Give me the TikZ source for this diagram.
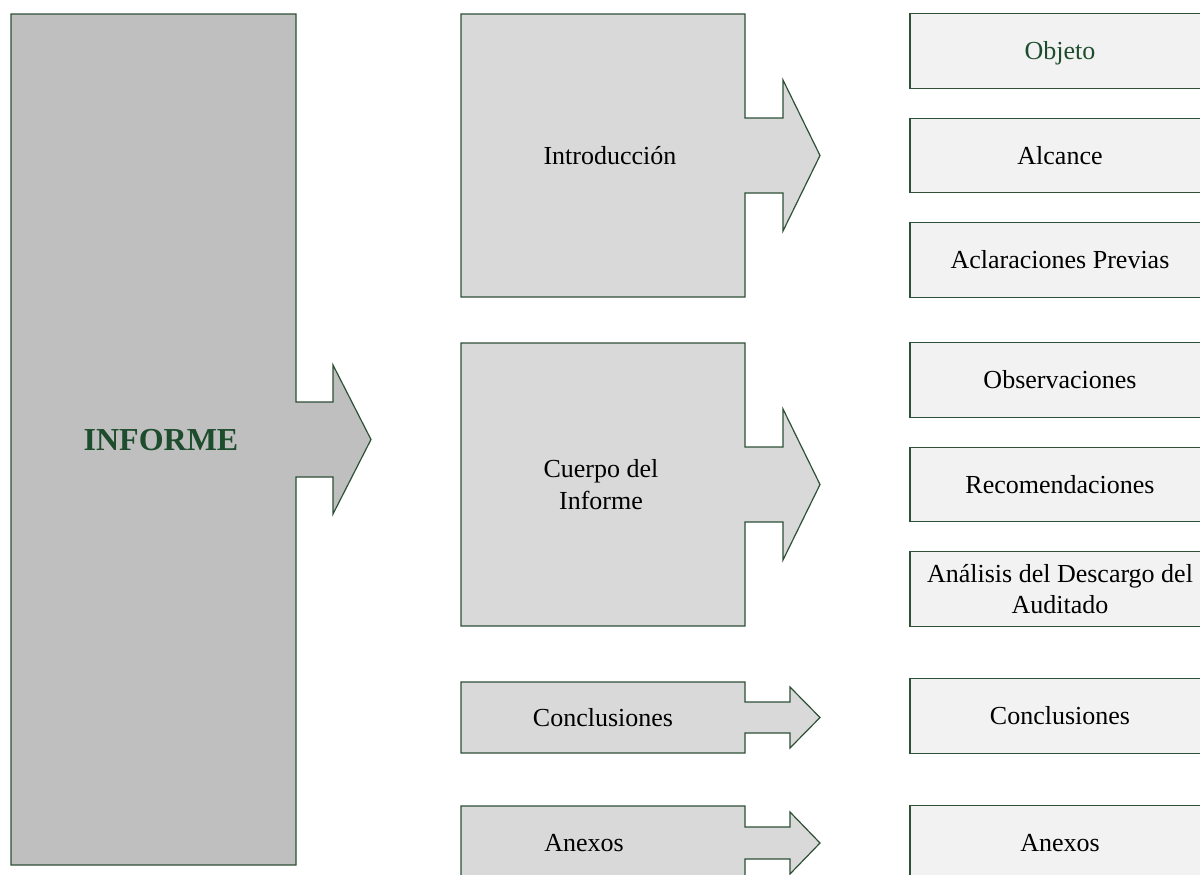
\documentclass[tikz,border=0pt]{standalone}
\usepackage{fontspec}
\setmainfont{Liberation Serif}
\definecolor{edge}{RGB}{45,80,55}
\definecolor{darkgreen}{RGB}{30,77,45}
\definecolor{bigfill}{RGB}{191,191,191}
\definecolor{midfill}{RGB}{217,217,217}
\definecolor{leaffill}{RGB}{242,242,242}
\tikzset{
  outline/.style={draw=edge, line width=0.9pt, line join=miter},
  bigshape/.style={outline, fill=bigfill},
  midshape/.style={outline, fill=midfill},
  label/.style={inner sep=0pt, align=center, font=\fontsize{19.5}{23.5}\selectfont},
  oneline/.style={text height=12.9pt, text depth=0pt},
  leaf/.style={outline, fill=leaffill, rectangle, minimum width=225pt, minimum height=55.9pt,
               inner sep=0pt, align=center, font=\fontsize{19.5}{23.5}\selectfont},
}
\begin{document}
\begin{tikzpicture}[x=0.75pt, y=-0.75pt]
\useasboundingbox (0,0) rectangle (1200,875);

% main block with its arrow
\path[bigshape] (11,14) -- (296,14) -- (296,402) -- (333,402) -- (333,365) -- (371,439.5)
  -- (333,514) -- (333,477) -- (296,477) -- (296,865) -- (11,865) -- cycle;
\node[label, font=\fontsize{24}{28}\selectfont\bfseries, text=darkgreen,
      text height=15.9pt, text depth=0pt] (informe) at (161,439.5) {INFORME};

% section blocks with arrows
\path[midshape] (461,14) -- (745,14) -- (745,118) -- (783,118) -- (783,80) -- (820,155.5)
  -- (783,231) -- (783,193) -- (745,193) -- (745,297) -- (461,297) -- cycle;
\node[label, oneline] (intro) at (610,155.5) {Introducción};

\path[midshape] (461,343) -- (745,343) -- (745,447) -- (783,447) -- (783,409) -- (820,484.5)
  -- (783,560) -- (783,522) -- (745,522) -- (745,626) -- (461,626) -- cycle;
\node[label] (cuerpo) at (601,484.5) {Cuerpo del\\Informe};

\path[midshape] (461,682) -- (745,682) -- (745,702) -- (790,702) -- (790,687) -- (820,717.5)
  -- (790,748) -- (790,733) -- (745,733) -- (745,753) -- (461,753) -- cycle;
\node[label, oneline] (concl) at (603,717.5) {Conclusiones};

\path[midshape] (461,806) -- (745,806) -- (745,827) -- (790,827) -- (790,812) -- (820,843)
  -- (790,874) -- (790,859) -- (745,859) -- (745,880) -- (461,880) -- cycle;
\node[label, oneline] (anexos) at (584,843) {Anexos};

% detail boxes
\node[leaf, oneline, text=darkgreen] (objeto) at (1060,51) {Objeto};
\node[leaf, oneline] (alcance) at (1060,155.5) {Alcance};
\node[leaf, oneline] (aclar) at (1060,260) {Aclaraciones Previas};
\node[leaf, oneline] (obs) at (1060,380) {Observaciones};
\node[leaf, oneline] (recom) at (1060,484.5) {Recomendaciones};
\node[leaf] (analisis) at (1060,589) {Análisis del Descargo del\\Auditado};
\node[leaf, oneline] (concl2) at (1060,716) {Conclusiones};
\node[leaf, oneline] (anexos2) at (1060,843) {Anexos};
\end{tikzpicture}
\end{document}
